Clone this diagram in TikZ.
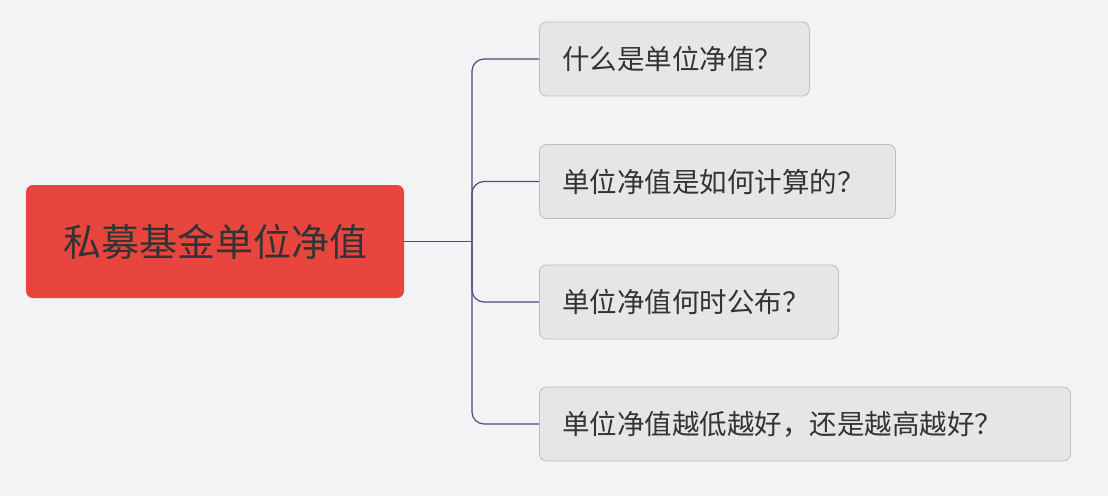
\documentclass[tikz,border=0pt]{standalone}
\usepackage{fontspec}
\newfontfamily\cjk{Noto Sans CJK SC}
\definecolor{bg}{HTML}{F3F3F6}
\definecolor{rootc}{HTML}{E8453F}
\definecolor{childc}{HTML}{E6E6E6}
\definecolor{childb}{HTML}{BEBEBE}
\definecolor{linec}{HTML}{4B4D7A}
\definecolor{txt}{HTML}{333333}
\begin{document}
\begin{tikzpicture}[x=1pt,y=-1pt,
  rootbox/.style={fill=rootc,draw=none,rounded corners=7pt,minimum width=378pt,minimum height=113pt,font=\cjk\fontsize{38}{44}\selectfont,text=txt},
  childbox/.style={fill=childc,draw=childb,line width=0.8pt,rounded corners=7pt,minimum height=74pt,anchor=west,font=\cjk\fontsize{27.5}{32}\selectfont,text=txt,inner xsep=23pt},
  conn/.style={draw=linec,line width=1.2pt,rounded corners=12pt}]
\fill[bg] (0,0) rectangle (1108,496);
\node[rootbox] (root) at (215,241.5) {私募基金单位净值};
\node[childbox,minimum width=270pt,text width=224pt] (c1) at (539,59) {什么是单位净值？};
\node[childbox,minimum width=356pt,text width=310pt] (c2) at (539,181.5) {单位净值是如何计算的？};
\node[childbox,minimum width=299pt,text width=253pt] (c3) at (539,302) {单位净值何时公布？};
\node[childbox,minimum width=531pt,text width=485pt] (c4) at (539,424) {单位净值越低越好，还是越高越好？};
\coordinate (j) at (472,241.5);
\draw[conn,rounded corners=0pt,line width=1.8pt] (root.east) -- (j);
\draw[conn] (j) |- (c1.west);
\draw[conn] (j) |- (c2.west);
\draw[conn] (j) |- (c3.west);
\draw[conn] (j) |- (c4.west);
\end{tikzpicture}
\end{document}
